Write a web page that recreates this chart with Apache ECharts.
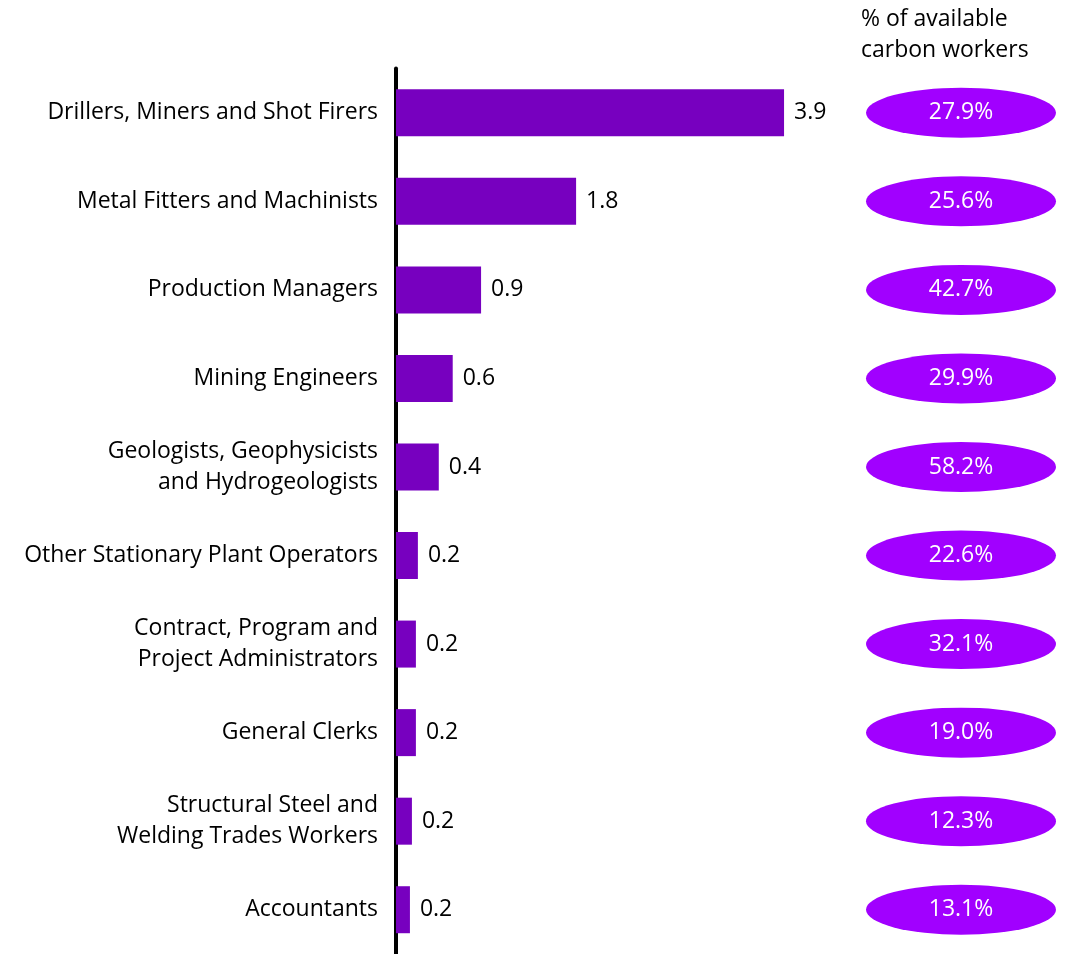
<!DOCTYPE html>
<html>
<head>
<meta charset="utf-8">
<script src="https://cdn.jsdelivr.net/npm/echarts@6/dist/echarts.min.js"></script>
<style>
  html, body { margin: 0; padding: 0; background: #fff; }
  #chart { width: 1071px; height: 954px; }
</style>
</head>
<body>
<div id="chart"></div>
<script>
// occupations, top to bottom
const categories = [
  'Drillers, Miners and Shot Firers',
  'Metal Fitters and Machinists',
  'Production Managers',
  'Mining Engineers',
  'Geologists, Geophysicists\nand Hydrogeologists',
  'Other Stationary Plant Operators',
  'Contract, Program and\nProject Administrators',
  'General Clerks',
  'Structural Steel and\nWelding Trades Workers',
  'Accountants'
]
// bar lengths
const values = [3.9, 1.81, 0.855, 0.57, 0.43, 0.22, 0.2, 0.2, 0.16, 0.14]
// labels shown next to bars
const valueLabels = ['3.9', '1.8', '0.9', '0.6', '0.4', '0.2', '0.2', '0.2', '0.2', '0.2']
// % of available carbon workers
const shares = [27.9, 25.6, 42.7, 29.9, 58.2, 22.6, 32.1, 19.0, 12.3, 13.1]

const FONT = 'Open Sans'
const FS = 23
const chart = echarts.init(document.getElementById('chart'))

const option = {
  animation: false,
  textStyle: { fontFamily: FONT },
  title: {
    text: '% of available\ncarbon workers',
    left: 861,
    top: 4,
    padding: 0,
    textStyle: { fontFamily: FONT, fontSize: FS, fontWeight: 'normal', color: '#000', lineHeight: 31 }
  },
  grid: [
    { left: 396, width: 398, top: 68.5, height: 890 },
    { left: 866, width: 190, top: 68.5, height: 890 }
  ],
  xAxis: [
    { type: 'value', gridIndex: 0, min: 0, max: 4, show: false },
    { type: 'value', gridIndex: 1, min: 0, max: 1, show: false }
  ],
  yAxis: [
    {
      type: 'category',
      gridIndex: 0,
      inverse: true,
      data: categories,
      axisLine: { show: true, lineStyle: { color: '#000', width: 4 } },
      axisTick: { show: false },
      axisLabel: {
        color: '#000',
        fontFamily: FONT,
        fontSize: FS,
        lineHeight: 31,
        margin: 18,
        padding: [5, 0, 0, 0],
        align: 'right'
      }
    },
    {
      type: 'category',
      gridIndex: 1,
      inverse: true,
      data: categories,
      show: false
    }
  ],
  series: [
    {
      type: 'bar',
      xAxisIndex: 0,
      yAxisIndex: 0,
      data: values,
      barWidth: 47,
      itemStyle: { color: '#7700BF' },
      label: {
        show: true,
        position: 'right',
        distance: 10,
        padding: [3, 0, 0, 0],
        color: '#000',
        fontFamily: FONT,
        fontSize: FS,
        formatter: p => valueLabels[p.dataIndex]
      }
    },
    {
      type: 'scatter',
      xAxisIndex: 1,
      yAxisIndex: 1,
      data: shares.map((s, i) => [0.5, i]),
      symbol: 'circle',
      symbolSize: [190, 50],
      itemStyle: { color: '#A100FF', opacity: 1 },
      label: {
        show: true,
        position: 'inside',
        padding: [2, 0, 0, 0],
        color: '#fff',
        fontFamily: FONT,
        fontSize: FS,
        formatter: p => shares[p.dataIndex].toFixed(1) + '%'
      }
    }
  ]
}

chart.setOption(option)
</script>
</body>
</html>
